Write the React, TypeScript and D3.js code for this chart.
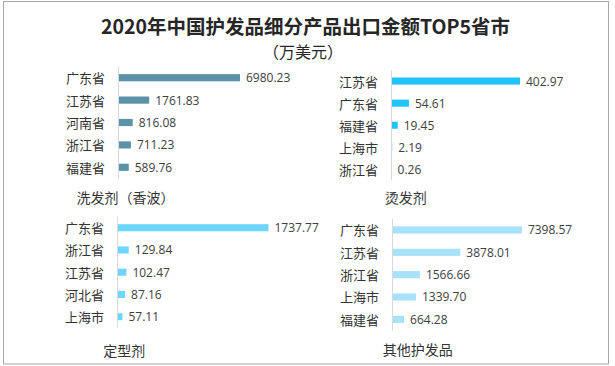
import React from "react";
import * as d3 from "d3";

// 洗发剂（香波）
const shampooProvinces = ["广东省", "江苏省", "河南省", "浙江省", "福建省"];
const shampooValues = [6980.23, 1761.83, 816.08, 711.23, 589.76];

// 烫发剂
const permProvinces = ["江苏省", "广东省", "福建省", "上海市", "浙江省"];
const permValues = [402.97, 54.61, 19.45, 2.19, 0.26];

// 定型剂
const stylingProvinces = ["广东省", "浙江省", "江苏省", "河北省", "上海市"];
const stylingValues = [1737.77, 129.84, 102.47, 87.16, 57.11];

// 其他护发品
const otherProvinces = ["广东省", "江苏省", "浙江省", "上海市", "福建省"];
const otherValues = [7398.57, 3878.01, 1566.66, 1339.7, 664.28];

const titleLine1 = "2020年中国护发品细分产品出口金额TOP5省市";
const titleLine2 = "（万美元）";

interface PanelProps {
  name: string;
  cats: string[];
  values: number[];
  color: string;
  x0: number;
  plotW: number;
  y0: number;
  y1: number;
  nameX: number;
  nameY: number;
}

const CJK = "'Noto Sans CJK SC', 'Noto Sans', sans-serif";

const Panel: React.FC<PanelProps> = (p) => {
  const y = d3
    .scaleBand<string>()
    .domain(p.cats)
    .range([p.y0, p.y1])
    .paddingInner(0.68)
    .paddingOuter(0.34);
  const x = d3
    .scaleLinear()
    .domain([0, d3.max(p.values)!])
    .range([p.x0, p.x0 + p.plotW]);

  return (
    <g>
      {p.cats.map((c, i) => {
        const cy = y(c)! + y.bandwidth() / 2;
        return (
          <g key={c}>
            <rect
              x={x(0) + 0.5}
              y={y(c)}
              width={Math.max(0, x(p.values[i]) - x(0) - 0.5)}
              height={y.bandwidth()}
              fill={p.color}
            />
            <text
              x={p.x0 - 13.5}
              y={cy}
              textAnchor="end"
              dominantBaseline="central"
              fontFamily={CJK}
              fontSize={13}
              fill="#333"
            >
              {c}
            </text>
            <text
              x={x(p.values[i]) + 6}
              y={cy}
              dominantBaseline="central"
              fontFamily="'Open Sans', sans-serif"
              fontSize={12}
              fill="#404040"
            >
              {p.values[i].toFixed(2)}
            </text>
          </g>
        );
      })}
      {/* 纵轴线 */}
      <line
        x1={p.x0}
        x2={p.x0}
        y1={p.y0}
        y2={p.y1}
        stroke="#d9d9d9"
        strokeWidth={1}
      />
      <text
        x={p.nameX}
        y={p.nameY}
        textAnchor="middle"
        dominantBaseline="central"
        fontFamily={CJK}
        fontSize={14}
        fill="#333"
      >
        {p.name}
      </text>
    </g>
  );
};

export default function App() {
  return (
    <svg
      width={615}
      height={366}
      style={{ position: "absolute", left: 0, top: 0, background: "#fff" }}
    >
      <rect x={0} y={0} width={615} height={366} fill="#fff" />
      <rect
        x={3.5}
        y={1.5}
        width={605}
        height={362.5}
        fill="none"
        stroke="#a6a6a6"
        strokeWidth={1}
      />
      <text
        x={305.5}
        y={25}
        textAnchor="middle"
        dominantBaseline="central"
        fontFamily={CJK}
        fontWeight="bold"
        fontSize={19.5}
        fill="#262626"
      >
        {titleLine1}
      </text>
      <text
        x={303}
        y={50.5}
        textAnchor="middle"
        dominantBaseline="central"
        fontFamily={CJK}
        fontSize={16}
        fill="#262626"
      >
        {titleLine2}
      </text>

      <Panel
        name="洗发剂（香波）"
        cats={shampooProvinces}
        values={shampooValues}
        color="#5b92a8"
        x0={118.5}
        plotW={121.5}
        y0={66.5}
        y1={178.5}
        nameX={125.5}
        nameY={196.7}
      />
      <Panel
        name="烫发剂"
        cats={permProvinces}
        values={permValues}
        color="#1fc4fa"
        x0={391.5}
        plotW={128.5}
        y0={70}
        y1={180.5}
        nameX={405.8}
        nameY={196.7}
      />
      <Panel
        name="定型剂"
        cats={stylingProvinces}
        values={stylingValues}
        color="#6ed6fc"
        x0={117.5}
        plotW={151}
        y0={216.6}
        y1={327.8}
        nameX={124.2}
        nameY={350}
      />
      <Panel
        name="其他护发品"
        cats={otherProvinces}
        values={otherValues}
        color="#a8e2fa"
        x0={392.5}
        plotW={129.4}
        y0={218.8}
        y1={330.5}
        nameX={417.8}
        nameY={349}
      />
    </svg>
  );
}
